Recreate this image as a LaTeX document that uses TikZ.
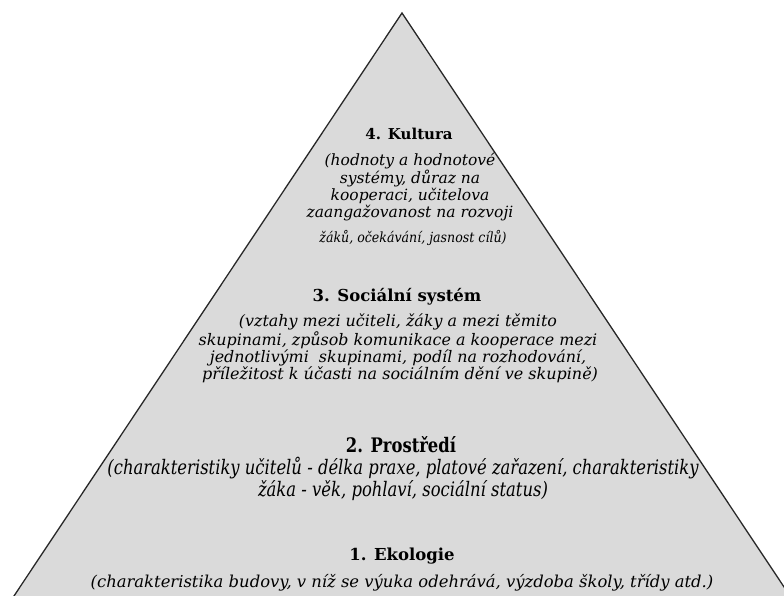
\documentclass[tikz,border=0pt]{standalone}
\usepackage{fontspec}
\setmainfont{DejaVu Serif}
\newfontfamily\narrowfont[FakeStretch=0.82]{DejaVu Serif}
\newfontfamily\notefont[FakeStretch=0.9]{DejaVu Serif}
\definecolor{pyrgray}{RGB}{218,218,218}
\definecolor{pyrline}{RGB}{40,40,40}

\tikzset{
  leveltitle/.style={font=\bfseries\fontsize{16.5}{18}\selectfont, inner sep=0pt},
  leveltext/.style={align=center, inner sep=0pt,
    font=\itshape\fontsize{15.5}{15.5}\selectfont},
  levelnote/.style={inner sep=0pt, font=\itshape\fontsize{14}{16}\selectfont},
  narrowtext/.style={align=center, inner sep=0pt,
    font=\narrowfont\itshape\fontsize{20}{19.5}\selectfont}
}

\begin{document}
\begin{tikzpicture}
        [x=1pt,y=-1pt]
        \useasboundingbox (0,0) rectangle (784,596);
        \clip (0,0) rectangle (784,596);

        \coordinate (apex) at (402,13);
        \coordinate (bl) at (-2,620);
        \coordinate (br) at (806,620);

        % pyramid
        \fill[pyrgray] (apex) -- (br) -- (bl) -- cycle;
        \draw[pyrline, line width=1.3pt, line join=miter] (bl) -- (apex) -- (br);

        % 4. level
        \node[leveltitle, font=\bfseries\fontsize{15}{17}\selectfont] (kult) at (409,134) {4. Kultura};
        \node[leveltext] (kulttext) at (410,187)
          {(hodnoty a hodnotové\\systémy, důraz na\\kooperaci, učitelova\\zaangažovanost na rozvoji};
        \node[levelnote, font=\notefont\itshape\fontsize{14}{16}\selectfont] (kultend) at (413,238) {žáků, očekávání, jasnost cílů)};

        % 3. level
        \node[leveltitle] (soc) at (397,297) {3. Sociální systém};
        \node[leveltext, font=\itshape\fontsize{15.9}{14}\selectfont] (soctext) at (398,340)
          {(vztahy mezi učiteli, žáky a mezi těmito\\skupinami, způsob komunikace a kooperace mezi\\jednotlivými\ \ skupinami, podíl na rozhodování,};
        \node[levelnote, font=\itshape\fontsize{16}{18}\selectfont] (socend) at (400,375) {příležitost k účasti na sociálním dění ve skupině)};

        % 2. level
        \node[leveltitle, font=\narrowfont\bfseries\fontsize{20}{22}\selectfont] (pros) at (401,445) {2. Prostředí};
        \node[narrowtext] (prostext) at (403,479)
          {(charakteristiky učitelů - délka praxe, platové zařazení, charakteristiky\\žáka - věk, pohlaví, sociální status)};

        % 1. level
        \node[leveltitle] (eko) at (402,556) {1. Ekologie};
        \node[levelnote, font=\itshape\fontsize{16.4}{18}\selectfont] (ekotext) at (402,583)
          {(charakteristika budovy, v níž se výuka odehrává, výzdoba školy, třídy atd.)};
      \end{tikzpicture}
\end{document}
